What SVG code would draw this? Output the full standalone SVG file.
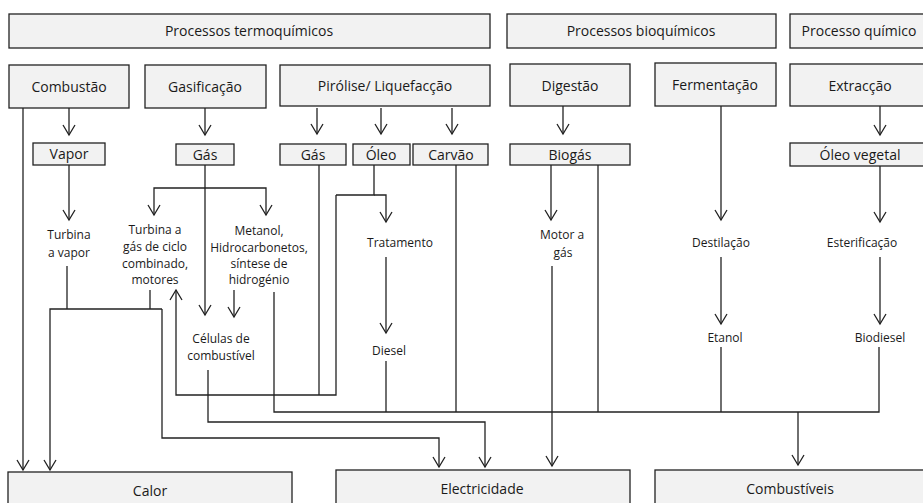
<svg xmlns="http://www.w3.org/2000/svg" width="923" height="503" viewBox="0 0 923 503">
<style>
.box{fill:#f2f2f2;stroke:#222;stroke-width:1.3}
.t{font-family:"Open Sans","Liberation Sans",sans-serif;fill:#1a1a1a;text-anchor:middle}
.h{font-size:14px}
.s{font-size:12px}
.c{fill:none;stroke:#222;stroke-width:1.3}
</style>
<defs>
<marker id="a" markerUnits="userSpaceOnUse" markerWidth="14" markerHeight="14" viewBox="-11 -7 12 14" refX="0" refY="0" orient="auto">
<path d="M-10,-6 L0,0 L-10,6" fill="none" stroke="#222" stroke-width="1.3"/>
</marker>
</defs>
<rect width="923" height="503" fill="#fff"/>
<g id="processos-termoquimicos"><rect class="box" x="9" y="14" width="481" height="34"/><text class="t h" x="249" y="36">Processos termoquímicos</text></g>
<g id="processos-bioquimicos"><rect class="box" x="507" y="14" width="269" height="34"/><text class="t h" x="641" y="36">Processos bioquímicos</text></g>
<g id="processo-quimico"><rect class="box" x="790" y="14" width="140" height="34"/><text class="t h" x="859" y="36">Processo químico</text></g>
<g id="combustao"><rect class="box" x="9" y="65" width="120" height="43"/><text class="t h" x="69" y="92">Combustão</text></g>
<g id="gasificacao"><rect class="box" x="145" y="65" width="121" height="43"/><text class="t h" x="205" y="92">Gasificação</text></g>
<g id="pirolise"><rect class="box" x="280" y="65" width="210" height="41"/><text class="t h" x="385" y="91">Pirólise/ Liquefacção</text></g>
<g id="digestao"><rect class="box" x="510" y="64" width="120" height="42"/><text class="t h" x="570" y="91">Digestão</text></g>
<g id="fermentacao"><rect class="box" x="655" y="63" width="121" height="43"/><text class="t h" x="715" y="90">Fermentação</text></g>
<g id="extraccao"><rect class="box" x="790" y="64" width="140" height="42"/><text class="t h" x="860" y="91">Extracção</text></g>
<g id="vapor"><rect class="box" x="33" y="143" width="72" height="22"/><text class="t h" x="69" y="159">Vapor</text></g>
<g id="gas1"><rect class="box" x="176" y="144" width="58" height="21"/><text class="t h" x="205" y="160">Gás</text></g>
<g id="gas2"><rect class="box" x="280" y="144" width="66" height="21"/><text class="t h" x="313" y="160">Gás</text></g>
<g id="oleo"><rect class="box" x="353" y="144" width="57" height="21"/><text class="t h" x="381" y="160">Óleo</text></g>
<g id="carvao"><rect class="box" x="413" y="144" width="75" height="21"/><text class="t h" x="451" y="160">Carvão</text></g>
<g id="biogas"><rect class="box" x="510" y="144" width="120" height="21"/><text class="t h" x="570" y="160">Biogás</text></g>
<g id="oleo-vegetal"><rect class="box" x="790" y="143" width="140" height="23"/><text class="t h" x="860" y="160">Óleo vegetal</text></g>
<g id="turbina-vapor"><text class="t s" x="69" y="239">Turbina</text><text class="t s" x="69" y="257">a vapor</text></g>
<g id="turbina-gas"><text class="t s" x="155" y="234">Turbina  a</text><text class="t s" x="155" y="251">gás de ciclo</text><text class="t s" x="155" y="268">combinado,</text><text class="t s" x="155" y="284">motores</text></g>
<g id="metanol"><text class="t s" x="259" y="235">Metanol,</text><text class="t s" x="259" y="252">Hidrocarbonetos,</text><text class="t s" x="259" y="268">síntese de</text><text class="t s" x="259" y="284">hidrogénio</text></g>
<g id="celulas"><text class="t s" x="221" y="343">Células de</text><text class="t s" x="221" y="360">combustível</text></g>
<g id="tratamento"><text class="t s" x="400" y="247">Tratamento</text></g>
<g id="diesel"><text class="t s" x="389" y="355">Diesel</text></g>
<g id="motor-gas"><text class="t s" x="562" y="239">Motor a</text><text class="t s" x="563" y="257">gás</text></g>
<g id="destilacao"><text class="t s" x="721" y="247">Destilação</text></g>
<g id="etanol"><text class="t s" x="725" y="342">Etanol</text></g>
<g id="esterificacao"><text class="t s" x="862" y="247">Esterificação</text></g>
<g id="biodiesel"><text class="t s" x="880" y="342">Biodiesel</text></g>
<g id="calor"><rect class="box" x="8" y="472" width="284" height="40"/><text class="t h" x="150" y="496">Calor</text></g>
<g id="electricidade"><rect class="box" x="336" y="470" width="294" height="40"/><text class="t h" x="482" y="494">Electricidade</text></g>
<g id="combustiveis"><rect class="box" x="655" y="470" width="275" height="40"/><text class="t h" x="790" y="494">Combustíveis</text></g>
<g id="connectors" class="c">
<path marker-end="url(#a)" d="M69,108 V135"/>
<path marker-end="url(#a)" d="M205,108 V135"/>
<path marker-end="url(#a)" d="M317,108 V134"/>
<path marker-end="url(#a)" d="M381,108 V134"/>
<path marker-end="url(#a)" d="M452,108 V134"/>
<path marker-end="url(#a)" d="M563,106 V134"/>
<path marker-end="url(#a)" d="M880,106 V135"/>
<path marker-end="url(#a)" d="M23,108 V470"/>
<path marker-end="url(#a)" d="M69,165 V220"/>
<path d="M67,266 V309"/>
<path d="M150,290 V309"/>
<path marker-end="url(#a)" d="M162,309 H50 V470"/>
<path marker-end="url(#a)" d="M162,309 V438 H439 V467"/>
<path marker-end="url(#a)" d="M205,165 V315"/>
<path marker-end="url(#a)" d="M205,188 H154 V215"/>
<path marker-end="url(#a)" d="M205,188 H266 V215"/>
<path marker-end="url(#a)" d="M234,290 V317"/>
<path d="M274,292 V412 H879 V347"/>
<path marker-end="url(#a)" d="M208,370 V422 H485 V467"/>
<path d="M319,165 V395"/>
<path marker-end="url(#a)" d="M336,195 V395 H176 V290"/>
<path d="M336,195 H374 V165"/>
<path marker-end="url(#a)" d="M374,195 H386 V222"/>
<path marker-end="url(#a)" d="M386,257 V333"/>
<path d="M386,361 V412"/>
<path d="M456,165 V412"/>
<path marker-end="url(#a)" d="M551,165 V220"/>
<path marker-end="url(#a)" d="M552,266 V466"/>
<path d="M598,165 V412"/>
<path marker-end="url(#a)" d="M721,106 V220"/>
<path marker-end="url(#a)" d="M721,257 V324"/>
<path d="M721,347 V412"/>
<path marker-end="url(#a)" d="M880,166 V222"/>
<path marker-end="url(#a)" d="M880,257 V324"/>
<path marker-end="url(#a)" d="M798,412 V465"/>
</g>
</svg>
